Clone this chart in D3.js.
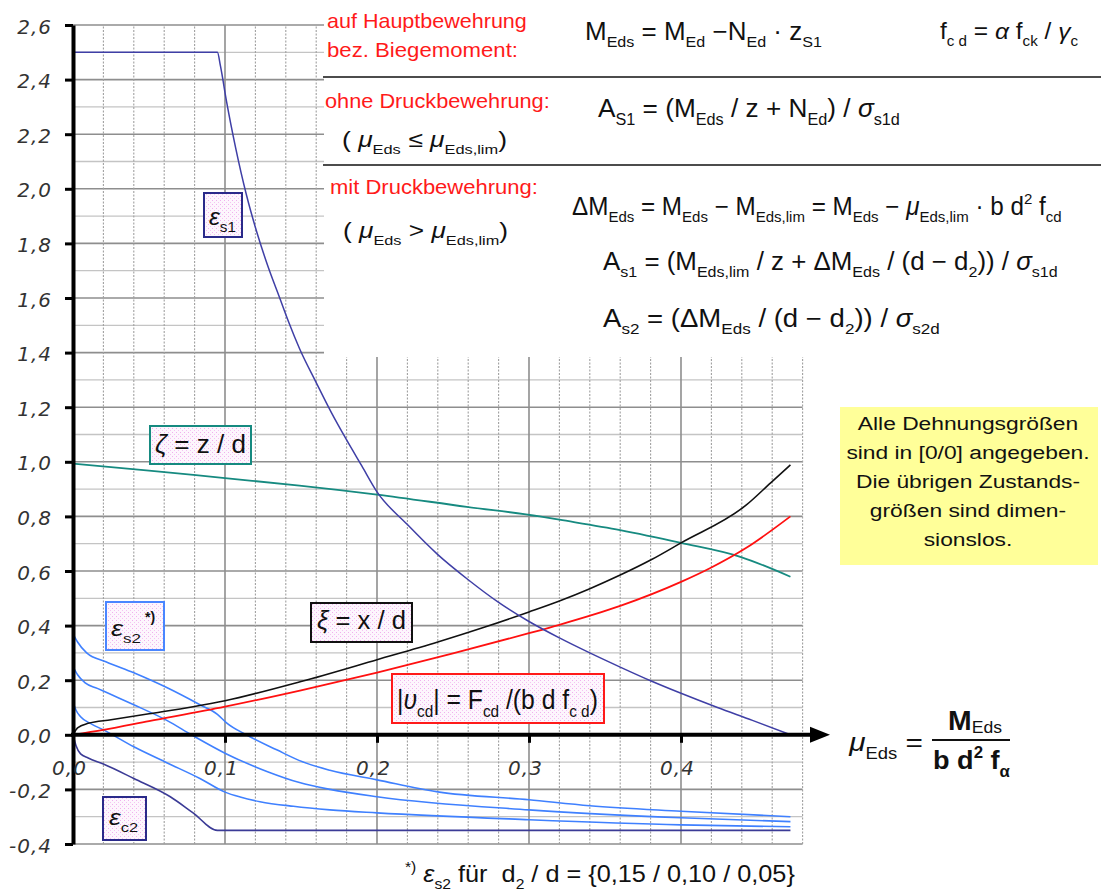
<!DOCTYPE html>
<html>
<head>
<meta charset="utf-8">
<script src="https://cdn.jsdelivr.net/npm/d3@7"></script>
<style>
  body { margin: 0; background: #fff; }
  svg { display: block; }
  text { font-family: "Liberation Sans", Arial, sans-serif; fill: #111; }
  .tick text { font-family: "DejaVu Sans", Verdana, sans-serif; font-style: italic; fill: #333; }
</style>
</head>
<body>
<svg id="chart" width="1101" height="893"></svg>
<script>
// ---- Data: [mu_Eds, value] per curve ----
const epsS1 = [[0, 2.5], [0.095, 2.5], [0.097, 2.45], [0.101, 2.32], [0.107, 2.15], [0.114, 1.98],
  [0.121, 1.84], [0.128, 1.72], [0.136, 1.60], [0.142, 1.51], [0.149, 1.415], [0.16, 1.29],
  [0.17, 1.18], [0.18, 1.08], [0.19, 0.985], [0.2, 0.89], [0.22, 0.77], [0.24, 0.66],
  [0.26, 0.568], [0.28, 0.485], [0.3, 0.415], [0.32, 0.355], [0.34, 0.30], [0.36, 0.248],
  [0.38, 0.198], [0.40, 0.152], [0.424, 0.10], [0.447, 0.053], [0.472, 0.0]];

const zeta = [[0, 0.993], [0.05, 0.968], [0.1, 0.94], [0.149, 0.913], [0.2, 0.88], [0.259, 0.835],
  [0.307, 0.80], [0.32, 0.788], [0.36, 0.75], [0.4, 0.703], [0.439, 0.652], [0.472, 0.579]];

const xi = [[0, 0], [0.003, 0.025], [0.01, 0.042], [0.025, 0.055], [0.05, 0.077], [0.079, 0.103],
  [0.1, 0.125], [0.15, 0.195], [0.2, 0.275], [0.24, 0.34], [0.27, 0.393], [0.3, 0.45],
  [0.32, 0.49], [0.34, 0.535], [0.36, 0.585], [0.38, 0.64], [0.4, 0.703], [0.443, 0.842],
  [0.459, 0.923], [0.472, 0.989]];

const nuCd = [[0, 0], [0.02, 0.018], [0.05, 0.05], [0.1, 0.103], [0.15, 0.163], [0.2, 0.228],
  [0.25, 0.298], [0.3, 0.372], [0.32, 0.403], [0.36, 0.472], [0.4, 0.56], [0.419, 0.61],
  [0.443, 0.685], [0.472, 0.80]];

// eps_s2 for d2/d = 0.15 / 0.10 / 0.05
const epsS2a = [[0, 0.37], [0.003, 0.34], [0.009, 0.30], [0.022, 0.267], [0.04, 0.227], [0.062, 0.172],
  [0.0835, 0.11], [0.095, 0.075], [0.101, 0.044], [0.114, 0.0], [0.134, -0.055], [0.151, -0.099],
  [0.169, -0.13], [0.2, -0.165], [0.24, -0.209], [0.3, -0.238], [0.34, -0.26], [0.4, -0.28], [0.472, -0.30]];
const epsS2b = [[0, 0.25], [0.003, 0.22], [0.008, 0.19], [0.016, 0.17], [0.024, 0.15], [0.04, 0.11],
  [0.062, 0.052], [0.078, 0.0], [0.101, -0.07], [0.128, -0.135], [0.149, -0.175], [0.169, -0.20],
  [0.2, -0.227], [0.3, -0.275], [0.4, -0.304], [0.472, -0.318]];
const epsS2c = [[0, 0.12], [0.002, 0.09], [0.005, 0.066], [0.012, 0.04], [0.02, 0.018], [0.04, -0.044],
  [0.062, -0.103], [0.0835, -0.16], [0.1, -0.21], [0.11, -0.228], [0.123, -0.245], [0.145, -0.262],
  [0.169, -0.275], [0.2, -0.286], [0.3, -0.311], [0.4, -0.33], [0.472, -0.337]];

const epsC2 = [[0, 0], [0.002, -0.04], [0.005, -0.07], [0.01, -0.085], [0.02, -0.107], [0.04, -0.16],
  [0.064, -0.227], [0.079, -0.286], [0.095, -0.35], [0.472, -0.35]];

const yTicks = [-0.4, -0.2, 0, 0.2, 0.4, 0.6, 0.8, 1.0, 1.2, 1.4, 1.6, 1.8, 2.0, 2.2, 2.4, 2.6];
const xTicks = [0, 0.1, 0.2, 0.3, 0.4];
const noteLines = ["Alle Dehnungsgrößen", "sind in [0/0] angegeben.", "Die übrigen Zustands-",
  "größen sind dimen-", "sionslos."];

// ---- Setup ----
const svg = d3.select("#chart");
const x = d3.scaleLinear().domain([0, 0.48]).range([73, 802.6]);
const y = d3.scaleLinear().domain([-0.4, 2.6]).range([844, 25]);
const fmt = d => d.toFixed(1).replace(".", ",");

const defs = svg.append("defs");
const pat = defs.append("pattern").attr("id", "dots").attr("width", 4).attr("height", 4)
  .attr("patternUnits", "userSpaceOnUse");
pat.append("rect").attr("width", 4).attr("height", 4).attr("fill", "#fdf6fd");
pat.append("rect").attr("width", 1).attr("height", 1).attr("fill", "#f0b0ee");
pat.append("rect").attr("x", 2).attr("y", 2).attr("width", 1).attr("height", 1).attr("fill", "#f4c4f2");

// ---- Grid ----
const grid = svg.append("g");
const hGrid = d3.range(-4, 27).map(i => i / 10);
const vGrid = d3.range(1, 25).map(i => i * 0.02);
grid.selectAll("line.h").data(hGrid).join("line")
  .attr("x1", x(0)).attr("x2", x(0.48))
  .attr("y1", d => y(d)).attr("y2", d => y(d))
  .attr("stroke", d => Math.round(d * 10) % 2 === 0 ? "#8e8e8e" : "#c4c4c4")
  .attr("stroke-width", d => Math.round(d * 10) % 2 === 0 ? 1.6 : 1.3);
grid.selectAll("line.v").data(vGrid).join("line")
  .attr("y1", y(-0.4)).attr("y2", y(2.6))
  .attr("x1", d => x(d)).attr("x2", d => x(d))
  .attr("stroke", d => Math.round(d * 100) % 10 === 0 ? "#8e8e8e" : "#a0a0a0")
  .attr("stroke-width", d => Math.round(d * 100) % 10 === 0 ? 1.6 : 1.1)
  .attr("stroke-dasharray", d => Math.round(d * 100) % 10 === 0 ? null : "2,1.5");

// blank panel carrying the formulas
svg.append("rect").attr("x", 324).attr("y", 0).attr("width", 777).attr("height", 357).attr("fill", "#fff");
svg.append("line").attr("x1", 323).attr("x2", 1101).attr("y1", 77).attr("y2", 77).attr("stroke", "#111").attr("stroke-width", 1.6);
svg.append("line").attr("x1", 323).attr("x2", 1101).attr("y1", 165).attr("y2", 165).attr("stroke", "#111").attr("stroke-width", 1.6);

// ---- Curves ----
const line = d3.line().x(d => x(d[0])).y(d => y(d[1])).curve(d3.curveMonotoneX);
const curves = [
  [epsS2a, "#3f80ff", 1.6], [epsS2b, "#3f80ff", 1.6], [epsS2c, "#3f80ff", 1.6],
  [epsC2, "#3b3b96", 1.6], [zeta, "#168a80", 1.8], [nuCd, "#ff1010", 1.8],
  [xi, "#111111", 1.6], [epsS1, "#3f3fa6", 1.5]
];
svg.append("g").selectAll("path").data(curves).join("path")
  .attr("d", d => line(d[0])).attr("fill", "none")
  .attr("stroke", d => d[1]).attr("stroke-width", d => d[2]);

// ---- Axes ----
const yAxis = svg.append("g").attr("transform", `translate(${x(0)},0)`)
  .call(d3.axisLeft(y).tickValues(yTicks).tickFormat(fmt).tickSize(8).tickPadding(13).tickSizeOuter(0));
yAxis.select(".domain").attr("stroke", "#000").attr("stroke-width", 4);
yAxis.selectAll(".tick line").attr("stroke", "#000").attr("stroke-width", 3);
yAxis.selectAll(".tick text").attr("font-size", 20).attr("letter-spacing", 1).attr("dy", "0.4em");

const xAxis = svg.append("g").attr("transform", `translate(0,${y(0)})`)
  .call(d3.axisBottom(x).tickValues(xTicks).tickFormat(fmt).tickSize(8).tickPadding(18).tickSizeOuter(0));
xAxis.select(".domain").remove();
xAxis.selectAll(".tick line").attr("stroke", "#000").attr("stroke-width", 3);
xAxis.selectAll(".tick text").attr("font-size", 20).attr("letter-spacing", 1).attr("dx", -4);
svg.append("line").attr("x1", x(0) - 2).attr("x2", 812).attr("y1", y(0)).attr("y2", y(0))
  .attr("stroke", "#000").attr("stroke-width", 4);
svg.append("polygon").attr("points", `810,${y(0) - 8} 830,${y(0)} 810,${y(0) + 8}`).attr("fill", "#000");

// ---- Rich text helpers ----
const S = t => ({ t, sub: 1 });
const P = t => ({ t, sup: 1 });
const I = t => ({ t, i: 1 });
function rich(parent, x0, y0, size, segs, opts = {}) {
  const t = parent.append("text").attr("x", 0).attr("y", y0).attr("font-size", size)
    .attr("xml:space", "preserve");
  if (opts.fill) t.style("fill", opts.fill);
  if (opts.bold) t.attr("font-weight", "bold");
  const subOff = opts.subOff !== undefined ? opts.subOff : 0.3;
  let cur = 0;
  segs.forEach(s => {
    const seg = typeof s === "string" ? { t: s } : s;
    let off = 0, fs = size;
    if (seg.sub) { off = size * subOff; fs = size * 0.62; }
    if (seg.sup) { off = -size * 0.42; fs = size * 0.62; }
    const ts = t.append("tspan").attr("dy", off - cur).attr("font-size", fs).text(seg.t);
    if (seg.i) ts.attr("font-style", "italic");
    if (seg.b) ts.attr("font-weight", "bold");
    if (seg.nb) ts.attr("font-weight", "normal");
    cur = off;
  });
  if (opts.to !== undefined) {
    const b = t.node().getBBox();
    const sc = (opts.to - x0) / b.width;
    t.attr("transform", `translate(${x0},0) scale(${sc},1) translate(${-b.x},0)`);
  } else {
    t.attr("x", x0);
  }
  return t;
}

// ---- Formula panel ----
const fp = svg.append("g");
const red = "#ff1a1a";
rich(fp, 327, 28, 20, ["auf Hauptbewehrung"], { fill: red, to: 527 });
rich(fp, 327, 57, 20, ["bez. Biegemoment:"], { fill: red, to: 518 });
rich(fp, 325, 108, 20, ["ohne Druckbewehrung:"], { fill: red, to: 550 });
rich(fp, 342, 147, 22, ["( ", I("μ"), S("Eds"), " ≤ ", I("μ"), S("Eds,lim"), ")"], { to: 507 });
rich(fp, 330, 194, 20, ["mit Druckbewehrung:"], { fill: red, to: 538 });
rich(fp, 343, 238, 22, ["( ", I("μ"), S("Eds"), " > ", I("μ"), S("Eds,lim"), ")"], { to: 508 });

rich(fp, 585, 40, 25, ["M", S("Eds"), " = M", S("Ed"), " −N", S("Ed"), " · z", S("S1")], { to: 822 });
rich(fp, 940, 39, 23, ["f", S("c d"), " = ", I("α"), " f", S("ck"), " / ", I("γ"), S("c")], { to: 1078 });
rich(fp, 598, 117, 26, ["A", S("S1"), " = (M", S("Eds"), " / z + N", S("Ed"), ") / ", I("σ"), S("s1d")], { to: 900 });
rich(fp, 572, 215, 25, ["ΔM", S("Eds"), " = M", S("Eds"), " − M", S("Eds,lim"), " = M", S("Eds"), " − ",
  I("μ"), S("Eds,lim"), " · b d", P("2"), " f", S("cd")], { to: 1062 });
rich(fp, 603, 270, 25, ["A", S("s1"), " = (M", S("Eds,lim"), " / z + ΔM", S("Eds"), " / (d − d", S("2"),
  ")) / ", I("σ"), S("s1d")], { to: 1058 });
rich(fp, 603, 327, 25, ["A", S("s2"), " = (ΔM", S("Eds"), " / (d − d", S("2"), ")) / ", I("σ"), S("s2d")], { to: 940 });

// ---- Curve labels ----
const lab = svg.append("g");
function box(x0, y0, x1, y1, color) {
  lab.append("rect").attr("x", x0).attr("y", y0).attr("width", x1 - x0).attr("height", y1 - y0)
    .attr("fill", "url(#dots)").attr("stroke", color).attr("stroke-width", 2);
}
box(204, 193, 242, 237, "#2a2a8a");
rich(lab, 209, 225, 24, [I("ε"), S("s1")], { to: 236 });
box(150, 426, 251, 464, "#168a80");
rich(lab, 155, 453, 25, [I("ζ"), " = z / d"], { to: 246 });
box(311, 603, 412, 642, "#111");
rich(lab, 317, 629, 25, [I("ξ"), " = x / d"], { to: 406 });
box(392, 674, 604, 723, "#ff1a1a");
rich(lab, 397, 709, 28, ["|", I("υ"), S("cd"), "| = F", S("cd"), " /(b d f", S("c d"), ")"], { to: 598 });
box(106, 602, 164, 650, "#4a86ff");
rich(lab, 111, 636, 22, [I("ε"), S("s2")], { to: 141 });
rich(lab, 145, 622, 14, ["*)"], { bold: true });
box(103, 797, 146, 840, "#2a2a8a");
rich(lab, 109, 825, 22, [I("ε"), S("c2")], { to: 138 });

// ---- Note box ----
svg.append("rect").attr("x", 840).attr("y", 407).attr("width", 258).attr("height", 158).attr("fill", "#ffff99");
svg.append("g").selectAll("text").data(noteLines).join("text")
  .attr("x", 0).attr("y", (d, i) => 430 + i * 29)
  .attr("transform", "translate(968,0) scale(1.2,1)")
  .attr("text-anchor", "middle").attr("font-size", 19).text(d => d);

// ---- mu_Eds definition ----
rich(svg, 848, 751, 26, [I("μ"), S("Eds"), " ="], { to: 923 });
rich(svg, 948, 730, 27, ["M", { t: "Eds", sub: 1, nb: 1 }], { bold: true, subOff: 0.12, to: 1002 });
svg.append("line").attr("x1", 932).attr("x2", 1010).attr("y1", 740).attr("y2", 740)
  .attr("stroke", "#111").attr("stroke-width", 2);
rich(svg, 933, 769, 26, ["b d", P("2"), " f", S("α")], { bold: true, to: 1010 });

// ---- Footnote ----
rich(svg, 405, 882, 24, [P("*)"), " ", I("ε"), S("s2"), " für  d", S("2"), " / d = {0,15 / 0,10 / 0,05}"], { to: 795 });
</script>
</body>
</html>
